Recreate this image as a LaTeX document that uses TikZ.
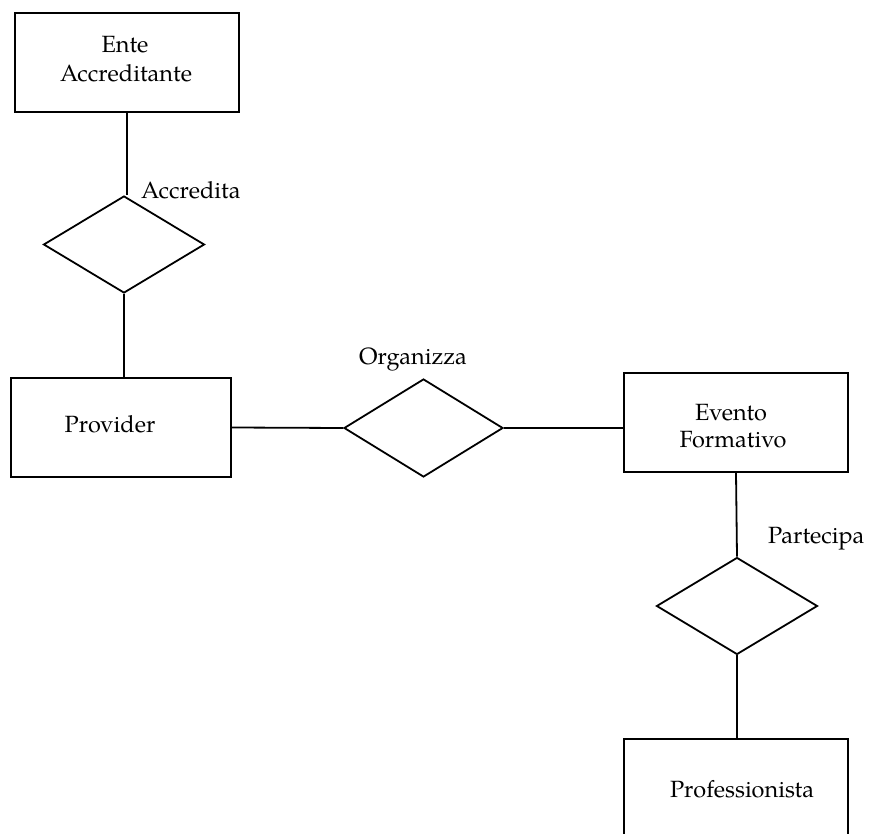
\documentclass[tikz,border=0pt]{standalone}
\usepackage{fontspec}
\setmainfont{TeX Gyre Pagella}
\usetikzlibrary{shapes.geometric}
\begin{document}
\begin{tikzpicture}[x=1pt,y=-1pt,
  ent/.style={draw,line width=1.8pt,rectangle,minimum width=#1,minimum height=99pt,inner sep=0pt},
  rel/.style={draw,line width=1.8pt,diamond,minimum width=161pt,minimum height=97pt,inner sep=0pt},
  conn/.style={line width=1.8pt},
  txt/.style={anchor=base,inner sep=0pt,font=\fontsize{23.5}{28}\selectfont}]
\clip (0,0) rectangle (870,834);
\fill[white] (0,0) rectangle (870,834);
% entities
\node[ent=224pt] (ente) at (127,62.5) {};
\node[ent=220pt] (provider) at (121,427.5) {};
\node[ent=224pt] (evento) at (736,422.5) {};
\node[ent=224pt] (prof) at (736,788.5) {};
% relations
\node[rel] (accredita) at (124,244.5) {};
\node[rel,minimum width=159pt,minimum height=98pt] (organizza) at (423.5,428) {};
\node[rel] (partecipa) at (737,606) {};
% texts
\node[txt] (t1) at (125,53) {Ente};
\node[txt] (t2) at (126,82) {Accreditante};
\node[txt] (t3) at (110,432) {Provider};
\node[txt] (t4) at (731,420) {Evento};
\node[txt] (t5) at (733,447) {Formativo};
\node[txt] (t6) at (742,797) {Professionista};
\node[txt,anchor=base west] (l1) at (141,199) {Accredita};
\node[txt,anchor=base west] (l2) at (359,364) {Organizza};
\node[txt,anchor=base west] (l3) at (768,543) {Partecipa};
% connectors
\draw[conn] (ente.south) -- (ente.south |- accredita.north);
\draw[conn] (accredita.south) -- (accredita.south |- provider.north);
\draw[conn] (provider.east) -- (organizza.west);
\draw[conn] (organizza.east) -- (organizza.east -| evento.west);
\draw[conn] (evento.south) -- (partecipa.north);
\draw[conn] (partecipa.south) -- (partecipa.south |- prof.north);
\end{tikzpicture}
\end{document}
